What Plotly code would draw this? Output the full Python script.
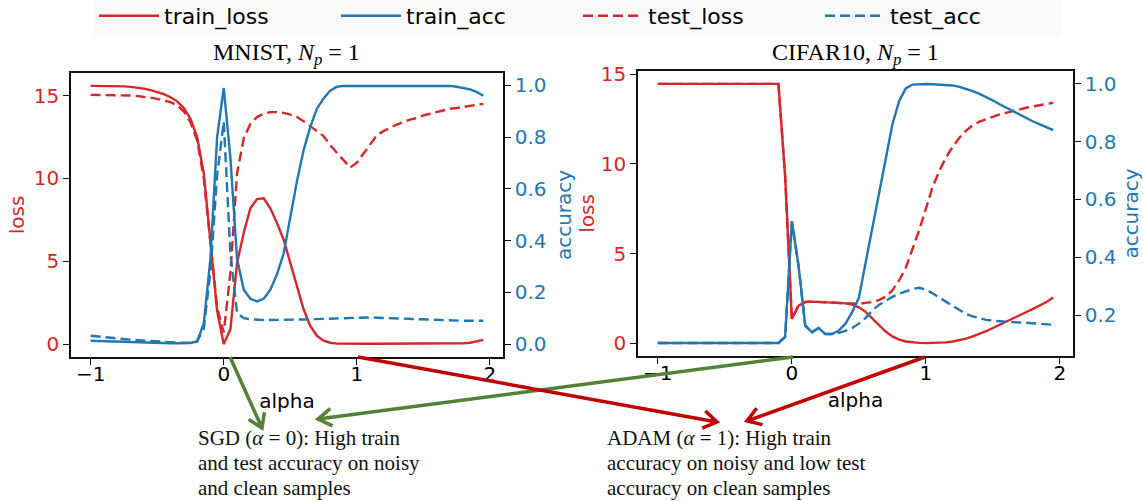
import math
import plotly.graph_objects as go

# ---- data -------------------------------------------------------------
alpha = [-1.00, -0.95, -0.90, -0.85, -0.80, -0.75, -0.70, -0.65, -0.60, -0.55,
         -0.50, -0.45, -0.40, -0.35, -0.30, -0.25, -0.20, -0.15, -0.10, -0.05,
         0.00, 0.05, 0.10, 0.15, 0.20, 0.25, 0.30, 0.35, 0.40, 0.45,
         0.50, 0.55, 0.60, 0.65, 0.70, 0.75, 0.80, 0.85, 0.90, 0.95,
         1.00, 1.05, 1.10, 1.15, 1.20, 1.25, 1.30, 1.35, 1.40, 1.45,
         1.50, 1.55, 1.60, 1.65, 1.70, 1.75, 1.80, 1.85, 1.90, 1.95]

mnist_train_loss = [15.58, 15.58, 15.57, 15.57, 15.56, 15.55, 15.52, 15.48, 15.42, 15.33,
                    15.22, 15.08, 14.90, 14.65, 14.25, 13.60, 12.50, 10.30, 6.20, 2.00,
                    0.00, 0.90, 4.90, 6.70, 8.20, 8.75, 8.80, 8.20, 7.30, 6.30,
                    4.90, 3.45, 2.10, 1.10, 0.50, 0.20, 0.08, 0.03, 0.02, 0.02,
                    0.02, 0.02, 0.02, 0.02, 0.02, 0.02, 0.02, 0.02, 0.02, 0.02,
                    0.02, 0.02, 0.02, 0.02, 0.02, 0.03, 0.05, 0.08, 0.15, 0.25]
mnist_test_loss = [15.04, 15.04, 15.04, 15.03, 15.03, 15.02, 15.00, 14.97, 14.93, 14.87,
                   14.80, 14.72, 14.60, 14.40, 14.05, 13.40, 12.30, 10.00, 6.00, 2.20,
                   0.70, 4.30, 10.30, 12.40, 13.30, 13.70, 13.90, 14.00, 14.00, 13.95,
                   13.85, 13.70, 13.45, 13.15, 12.80, 12.55, 12.00, 11.55, 11.10, 10.65,
                   10.95, 11.50, 12.10, 12.60, 12.85, 13.05, 13.25, 13.40, 13.55, 13.65,
                   13.80, 13.90, 14.00, 14.10, 14.20, 14.25, 14.32, 14.40, 14.45, 14.50]
mnist_train_acc = [0.013, 0.012, 0.011, 0.010, 0.009, 0.008, 0.007, 0.006, 0.005, 0.005,
                   0.004, 0.004, 0.003, 0.003, 0.003, 0.004, 0.010, 0.080, 0.330, 0.800,
                   0.990, 0.720, 0.330, 0.210, 0.175, 0.165, 0.175, 0.210, 0.270, 0.350,
                   0.490, 0.630, 0.750, 0.840, 0.910, 0.950, 0.980, 0.995, 0.998, 0.998,
                   0.998, 0.998, 0.998, 0.998, 0.998, 0.998, 0.998, 0.998, 0.998, 0.998,
                   0.998, 0.998, 0.998, 0.998, 0.998, 0.995, 0.990, 0.985, 0.975, 0.960]
mnist_test_acc = [0.032, 0.029, 0.027, 0.024, 0.022, 0.019, 0.017, 0.015, 0.013, 0.011,
                  0.010, 0.008, 0.007, 0.006, 0.005, 0.005, 0.010, 0.060, 0.280, 0.650,
                  0.860, 0.350, 0.120, 0.100, 0.096, 0.094, 0.093, 0.093, 0.093, 0.093,
                  0.093, 0.094, 0.095, 0.096, 0.097, 0.098, 0.099, 0.100, 0.101, 0.102,
                  0.103, 0.103, 0.103, 0.102, 0.101, 0.100, 0.099, 0.098, 0.097, 0.096,
                  0.094, 0.093, 0.092, 0.092, 0.091, 0.091, 0.090, 0.090, 0.090, 0.090]

cifar_train_loss = [14.45, 14.45, 14.45, 14.45, 14.45, 14.45, 14.45, 14.45, 14.45, 14.45,
                    14.45, 14.45, 14.45, 14.45, 14.45, 14.45, 14.45, 14.45, 14.45, 9.30,
                    1.35, 2.10, 2.30, 2.32, 2.30, 2.28, 2.27, 2.25, 2.22, 2.15,
                    2.00, 1.75, 1.40, 1.00, 0.65, 0.38, 0.20, 0.10, 0.05, 0.02,
                    0.01, 0.01, 0.02, 0.05, 0.10, 0.17, 0.26, 0.38, 0.52, 0.68,
                    0.85, 1.02, 1.20, 1.38, 1.56, 1.74, 1.92, 2.10, 2.30, 2.55]
cifar_test_loss = [14.45, 14.45, 14.45, 14.45, 14.45, 14.45, 14.45, 14.45, 14.45, 14.45,
                   14.45, 14.45, 14.45, 14.45, 14.45, 14.45, 14.45, 14.45, 14.45, 9.30,
                   1.35, 2.10, 2.30, 2.32, 2.30, 2.28, 2.27, 2.25, 2.23, 2.20,
                   2.20, 2.25, 2.30, 2.40, 2.60, 2.95, 3.50, 4.20, 5.20, 6.30,
                   7.50, 8.70, 9.60, 10.35, 10.95, 11.45, 11.85, 12.15, 12.35, 12.50,
                   12.62, 12.75, 12.85, 12.95, 13.05, 13.12, 13.20, 13.27, 13.33, 13.40]
cifar_train_acc = [0.103, 0.103, 0.103, 0.103, 0.103, 0.103, 0.103, 0.103, 0.103, 0.103,
                   0.103, 0.103, 0.103, 0.103, 0.103, 0.103, 0.103, 0.103, 0.103, 0.124,
                   0.525, 0.370, 0.163, 0.140, 0.155, 0.134, 0.134, 0.146, 0.170, 0.210,
                   0.260, 0.380, 0.500, 0.620, 0.740, 0.860, 0.940, 0.985, 0.998, 1.000,
                   1.000, 0.999, 0.997, 0.996, 0.995, 0.990, 0.983, 0.975, 0.966, 0.955,
                   0.943, 0.930, 0.918, 0.905, 0.893, 0.880, 0.870, 0.860, 0.850, 0.840]
cifar_test_acc = [0.103, 0.103, 0.103, 0.103, 0.103, 0.103, 0.103, 0.103, 0.103, 0.103,
                  0.103, 0.103, 0.103, 0.103, 0.103, 0.103, 0.103, 0.103, 0.103, 0.124,
                  0.525, 0.370, 0.163, 0.140, 0.155, 0.134, 0.134, 0.138, 0.145, 0.155,
                  0.170, 0.190, 0.215, 0.235, 0.250, 0.263, 0.274, 0.283, 0.290, 0.294,
                  0.288, 0.275, 0.260, 0.245, 0.230, 0.215, 0.203, 0.195, 0.188, 0.183,
                  0.180, 0.178, 0.176, 0.175, 0.174, 0.173, 0.171, 0.170, 0.168, 0.166]

x_ticks = [-1, 0, 1, 2]
loss_ticks = [0, 5, 10, 15]
mnist_acc_ticks = [0.0, 0.2, 0.4, 0.6, 0.8, 1.0]
cifar_acc_ticks = [0.2, 0.4, 0.6, 0.8, 1.0]

panel_titles = ["MNIST, <i>N</i><sub><i>p</i></sub> = 1",
                "CIFAR10, <i>N</i><sub><i>p</i></sub> = 1"]
sgd_note = ["SGD (<i>α</i> = 0): High train",
            "and test accuracy on noisy",
            "and clean samples"]
adam_note = ["ADAM (<i>α</i> = 1): High train",
             "accuracy on noisy and low test",
             "accuracy on clean samples"]

# ---- styling ----------------------------------------------------------
RED = "#d62728"
BLUE = "#1f77b4"
GREEN_ARROW = "#538135"
RED_ARROW = "#c00000"
SANS = "DejaVu Sans"
SERIF = "Liberation Serif"

W, H = 1143, 501
ML, MR, MT, MB = 71, 70, 71, 144
PW, PH = W - ML - MR, H - MT - MB


def paper_x(px):
    return (px - ML) / PW


def paper_y(py):
    return 1 - (py - MT) / PH


fig = go.Figure()

panels = [
    ("x", "y", "y2", mnist_train_loss, mnist_train_acc, mnist_test_loss, mnist_test_acc, True),
    ("x2", "y3", "y4", cifar_train_loss, cifar_train_acc, cifar_test_loss, cifar_test_acc, False),
]
for xa, yl, ya, trl, tra, tel, tea, show in panels:
    series = [
        ("train_loss", trl, yl, RED, "solid"),
        ("train_acc", tra, ya, BLUE, "solid"),
        ("test_loss", tel, yl, RED, "10px,5px"),
        ("test_acc", tea, ya, BLUE, "10px,5px"),
    ]
    for name, vals, yax, color, dash in series:
        fig.add_trace(go.Scatter(
            x=alpha, y=vals, xaxis=xa, yaxis=yax, mode="lines", name=name,
            legendgroup=name, showlegend=show,
            line=dict(color=color, width=2.4, dash=dash),
        ))

axis_common = dict(
    showline=True, linecolor="#111111", linewidth=1.5,
    ticks="outside", ticklen=6, tickwidth=1.3, tickcolor="#111111",
    showgrid=False, zeroline=False,
)
x_common = dict(axis_common, mirror=True, range=[-1.1475, 2.0975], tickvals=x_ticks,
                ticklabelstandoff=-8,
                tickfont=dict(family=SANS, size=20, color="black"),
                title=dict(text="alpha", font=dict(family=SANS, size=20, color="black"), standoff=9))

fig.update_layout(
    width=W, height=H, autosize=False,
    margin=dict(l=ML, r=MR, t=MT, b=MB, pad=0, autoexpand=False),
    paper_bgcolor="white", plot_bgcolor="white",
    font=dict(family=SANS, size=20, color="black"),
    xaxis=dict(x_common, domain=[0, 0.4311], anchor="y"),
    xaxis2=dict(x_common, domain=[0.5659, 1.0], anchor="y3"),
    yaxis=dict(axis_common, domain=[0, 0.993], anchor="x", range=[-0.78, 16.36],
               tickvals=loss_ticks, tickfont=dict(family=SANS, size=20, color=RED),
               title=dict(text="loss", font=dict(family=SANS, size=20, color=RED), standoff=4)),
    yaxis2=dict(axis_common, overlaying="y", side="right", anchor="x", range=[-0.05, 1.048],
                tickvals=mnist_acc_ticks, tickformat=".1f",
                tickfont=dict(family=SANS, size=20, color=BLUE),
                title=dict(text="accuracy", font=dict(family=SANS, size=20, color=BLUE), standoff=11)),
    yaxis3=dict(axis_common, domain=[0.0035, 1.0], anchor="x2", range=[-0.71, 15.17],
                tickvals=loss_ticks, tickfont=dict(family=SANS, size=20, color=RED),
                title=dict(text="loss", font=dict(family=SANS, size=20, color=RED), standoff=1)),
    yaxis4=dict(axis_common, overlaying="y3", side="right", anchor="x2", range=[0.058, 1.045],
                tickvals=cifar_acc_ticks, tickformat=".1f",
                tickfont=dict(family=SANS, size=20, color=BLUE),
                title=dict(text="accuracy", font=dict(family=SANS, size=20, color=BLUE), standoff=17)),
    legend=dict(
        orientation="h", xref="container", yref="container",
        x=94 / W, xanchor="left", y=1 - 16 / H, yanchor="middle",
        font=dict(family=SANS, size=22, color="black"),
        bgcolor="#fafafa", borderwidth=0,
        entrywidth=167, itemwidth=60, traceorder="normal",
    ),
)

# panel titles
for title, dom in zip(panel_titles, ([0, 0.4311], [0.5659, 1.0])):
    fig.add_annotation(text=title, x=(dom[0] + dom[1]) / 2, y=paper_y(54),
                       xref="paper", yref="paper", xanchor="center", yanchor="middle",
                       showarrow=False, font=dict(family=SERIF, size=24, color="black"))

# explanatory notes, one line at a time for a tight line pitch
for lines, left in ((sgd_note, 196), (adam_note, 605)):
    for i, line in enumerate(lines):
        fig.add_annotation(text=line, x=paper_x(left), y=paper_y(438 + 25 * i),
                           xref="paper", yref="paper", xanchor="left", yanchor="middle",
                           align="left", showarrow=False,
                           font=dict(family=SERIF, size=21, color="#111111"))


def arrow_path(tail, head, head_len=16, half_angle=33):
    (x0, y0), (x1, y1) = tail, head
    ang = math.atan2(y1 - y0, x1 - x0)
    wings = []
    for s in (-1, 1):
        a = ang + math.pi + s * math.radians(half_angle)
        wings.append((x1 + head_len * math.cos(a), y1 + head_len * math.sin(a)))

    def p(x, y):
        return f"{paper_x(x):.5f},{paper_y(y):.5f}"

    return (f"M{p(x0, y0)} L{p(x1, y1)} "
            f"M{p(*wings[0])} L{p(x1, y1)} L{p(*wings[1])}")


arrows = [
    ((230, 357), (262, 428), GREEN_ARROW),
    ((793, 357), (318, 419), GREEN_ARROW),
    ((358, 357), (717, 422), RED_ARROW),
    ((925, 357), (747, 421), RED_ARROW),
]
for tail, head, color in arrows:
    fig.add_shape(type="path", path=arrow_path(tail, head), xref="paper", yref="paper",
                  line=dict(color=color, width=3.5), fillcolor="rgba(0,0,0,0)", layer="above")

fig.write_html("out.html")
